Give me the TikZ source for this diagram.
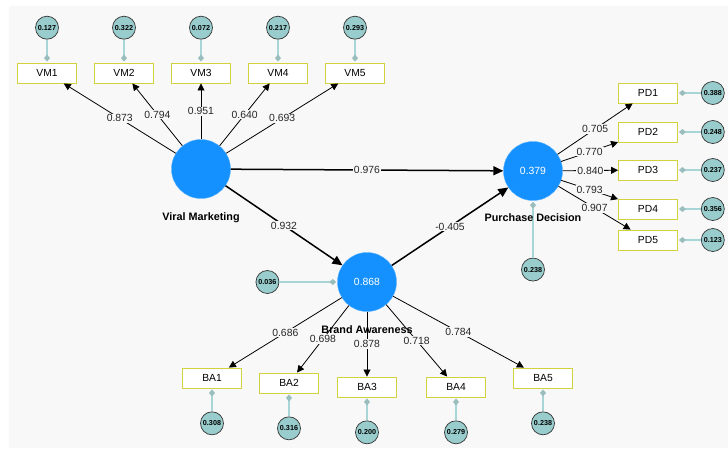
\documentclass[tikz,border=0pt]{standalone}
\usepackage{fontspec}
\setmainfont{Liberation Sans}
\usetikzlibrary{arrows.meta,positioning}

\definecolor{bgcol}{HTML}{F8F8F8}
\definecolor{latcol}{HTML}{1591FF}
\definecolor{errcol}{HTML}{99CCCC}
\definecolor{stemcol}{HTML}{A8D6D6}
\definecolor{boxcol}{HTML}{D2D240}

\tikzset{
  latent/.style={circle,fill=latcol,draw=latcol!70!white,minimum size=59pt,inner sep=0pt,
    text=white,font=\fontsize{10.4}{12}\selectfont},
  indic/.style={rectangle,draw=boxcol,line width=0.9pt,fill=white,minimum width=59pt,
    minimum height=20pt,inner sep=0pt,font=\fontsize{10.3}{12}\selectfont},
  err/.style={circle,draw=black!80,fill=errcol,line width=0.7pt,minimum size=23pt,
    inner sep=0pt,font=\fontsize{7.2}{8}\selectfont\bfseries},
  lname/.style={font=\fontsize{10.8}{12}\selectfont\bfseries},
  coef/.style={fill=bgcol,inner sep=1pt,font=\fontsize{10.4}{12}\selectfont,text=black!85},
  loading/.style={->,>={Triangle[length=7pt,width=7pt]},line width=0.8pt},
  structural/.style={->,>={Triangle[length=10pt,width=9pt]},line width=1.5pt},
  errline/.style={-{Diamond[length=7pt,width=6pt,line width=0pt,fill=stemcol!85!black!90]},
    draw=stemcol,line width=1.4pt,shorten >=1pt}
}

\begin{document}
\begin{tikzpicture}[x=1pt,y=-1pt,node distance=23pt]

\useasboundingbox (0,0) rectangle (728,448);
\fill[bgcol] (9,6) rectangle (728,448);

% latent variables
\node[latent] (vm) at (201,169) {};
\node[latent] (ba) at (367,282) {0.868};
\node[latent] (pd) at (533,171) {0.379};

% indicators
\node[indic] (vm1) at (47,73) {VM1};
\node[indic] (vm2) at (124,73) {VM2};
\node[indic] (vm3) at (201,73) {VM3};
\node[indic] (vm4) at (278,73) {VM4};
\node[indic] (vm5) at (355,73) {VM5};

\node[indic] (pd1) at (648,93) {PD1};
\node[indic] (pd2) at (648,132) {PD2};
\node[indic] (pd3) at (648,170) {PD3};
\node[indic] (pd4) at (648,209) {PD4};
\node[indic] (pd5) at (648,240) {PD5};

\node[indic] (ba1) at (212,378) {BA1};
\node[indic] (ba2) at (289,383) {BA2};
\node[indic] (ba3) at (367,387) {BA3};
\node[indic] (ba4) at (456,387) {BA4};
\node[indic] (ba5) at (543,378) {BA5};

% error terms
\node[err] (e_vm1) [above=of vm1] {0.127};
\node[err] (e_vm2) [above=of vm2] {0.322};
\node[err] (e_vm3) [above=of vm3] {0.072};
\node[err] (e_vm4) [above=of vm4] {0.217};
\node[err] (e_vm5) [above=of vm5] {0.293};

\node[err] (e_pd1) [right=of pd1] {0.388};
\node[err] (e_pd2) [right=of pd2] {0.248};
\node[err] (e_pd3) [right=of pd3] {0.237};
\node[err] (e_pd4) [right=of pd4] {0.356};
\node[err] (e_pd5) [right=of pd5] {0.123};

\node[err] (e_ba1) [below=of ba1] {0.308};
\node[err] (e_ba2) [below=of ba2] {0.316};
\node[err] (e_ba3) [below=of ba3] {0.200};
\node[err] (e_ba4) [below=of ba4] {0.279};
\node[err] (e_ba5) [below=of ba5] {0.238};

\node[err] (e_ba) [left=58pt of ba] {0.036};
\node[err] (e_pd) [below=57pt of pd] {0.238};

\path[errline] (e_vm1) edge (vm1) (e_vm2) edge (vm2) (e_vm3) edge (vm3)
  (e_vm4) edge (vm4) (e_vm5) edge (vm5)
  (e_pd1) edge (pd1) (e_pd2) edge (pd2) (e_pd3) edge (pd3)
  (e_pd4) edge (pd4) (e_pd5) edge (pd5)
  (e_ba1) edge (ba1) (e_ba2) edge (ba2) (e_ba3) edge (ba3)
  (e_ba4) edge (ba4) (e_ba5) edge (ba5)
  (e_ba) edge (ba) (e_pd) edge (pd);

% outer loadings
\path[loading] (vm) edge node[coef] {0.873} (vm1)
  (vm) edge node[coef] {0.794} (vm2)
  (vm) edge node[coef] {0.951} (vm3)
  (vm) edge node[coef] {0.640} (vm4)
  (vm) edge node[coef] {0.693} (vm5);

\path[loading] (pd) edge node[coef] {0.705} (pd1)
  (pd) edge node[coef] {0.770} (pd2)
  (pd) edge node[coef] {0.840} (pd3)
  (pd) edge node[coef] {0.793} (pd4)
  (pd) edge node[coef] {0.907} (pd5);

\path[loading] (ba) edge node[coef] {0.686} (ba1)
  (ba) edge node[coef] {0.698} (ba2)
  (ba) edge node[coef] {0.878} (ba3)
  (ba) edge node[coef] {0.718} (ba4)
  (ba) edge node[coef] {0.784} (ba5);

% inner model
\path[structural] (vm) edge node[coef] {0.976} (pd)
  (vm) edge node[coef] {0.932} (ba)
  (ba) edge node[coef] {-0.405} (pd);

\node[lname] (vm_name) [below=10pt of vm] {Viral Marketing};
\node[lname] (ba_name) [below=10pt of ba] {Brand Awareness};
\node[lname] (pd_name) [below=9pt of pd] {Purchase Decision};

\end{tikzpicture}
\end{document}
